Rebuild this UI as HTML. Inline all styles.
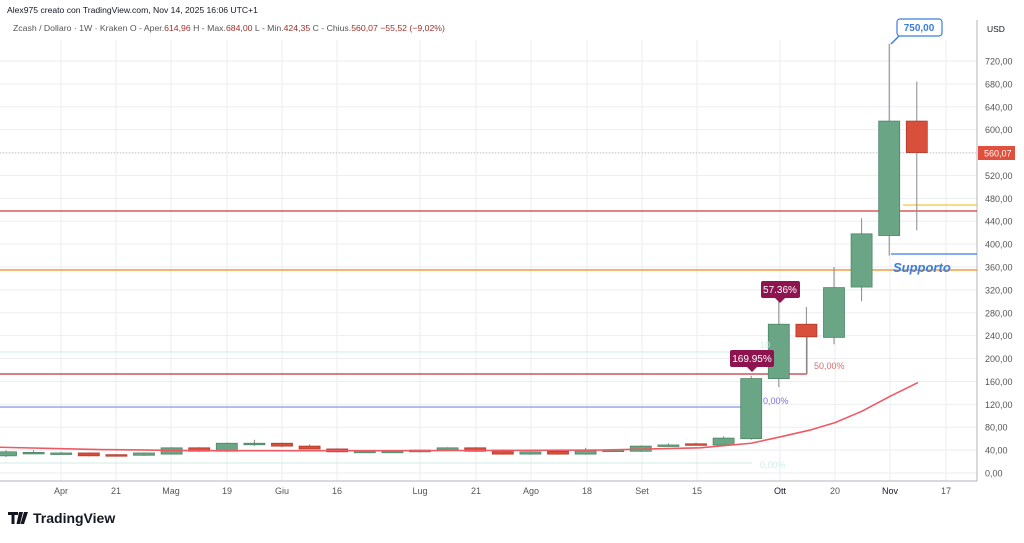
<!DOCTYPE html>
<html><head><meta charset="utf-8"><style>
body{margin:0;background:#fff;width:1024px;height:538px;overflow:hidden;font-family:"Liberation Sans",sans-serif}
svg text{font-family:"Liberation Sans",sans-serif}
</style></head><body>
<svg id="s" width="1024" height="538" xmlns="http://www.w3.org/2000/svg">
<text x="7" y="13" font-size="8.6" fill="#131722">Alex975 creato con TradingView.com, Nov 14, 2025 16:06 UTC+1</text>
<text x="13" y="31" font-size="8.7" fill="#555">Zcash / Dollaro · 1W · Kraken  O - Aper.<tspan fill="#a0302a">614,96</tspan>  H - Max.<tspan fill="#a0302a">684,00</tspan>  L - Min.<tspan fill="#a0302a">424,35</tspan>  C - Chius.<tspan fill="#a0302a">560,07  −55,52 (−9,02%)</tspan></text>
<g id="grid" stroke="#eceef2" stroke-width="1"></g>
<line x1="977" y1="20" x2="977" y2="481" stroke="#b2b5be"/>
<line x1="0" y1="481" x2="977" y2="481" stroke="#b2b5be"/>
<line x1="0" y1="153" x2="977" y2="153" stroke="#c0c3c9" stroke-dasharray="1,2"/>
<line x1="0" y1="211" x2="977" y2="211" stroke="#d0393b" stroke-width="1.3"/>
<line x1="0" y1="270" x2="977" y2="270" stroke="#f08a1c" stroke-width="1.3"/>
<line x1="0" y1="374" x2="807" y2="374" stroke="#c0343a" stroke-width="1.3"/>
<line x1="807" y1="374" x2="807" y2="332" stroke="#d06060"/>
<line x1="0" y1="407" x2="750" y2="407" stroke="#8b8fe0" stroke-width="1.2"/>
<line x1="0" y1="352" x2="760" y2="352" stroke="#cfeee6"/>
<line x1="0" y1="463" x2="752" y2="463" stroke="#cfeee6"/>
<line x1="903" y1="205" x2="977" y2="205" stroke="#f5c342" stroke-width="1.3"/>
<line x1="891" y1="254" x2="977" y2="254" stroke="#3b7de0" stroke-width="1.3"/>
<g id="c"></g>
<polyline id="ma" fill="none" stroke="#ee5a64" stroke-width="1.6"/>
<text x="760" y="348" font-size="9" fill="#cfeee6">10</text>
<text x="760" y="468" font-size="9" fill="#cfeee6">0,00%</text>
<text x="763" y="404" font-size="9" fill="#7a6ee0">0,00%</text>
<text x="814" y="369" font-size="9" fill="#e06a6a">50,00%</text>
<rect x="730" y="350" width="44" height="17" rx="2" fill="#8e1450"/><path d="M747 367 L752 372 L757 367Z" fill="#8e1450"/>
<text x="752" y="362" font-size="10" fill="#fff" text-anchor="middle">169.95%</text>
<rect x="761" y="281" width="39" height="17" rx="2" fill="#8e1450"/><path d="M775 298 L780 303 L785 298Z" fill="#8e1450"/>
<text x="780" y="293" font-size="10" fill="#fff" text-anchor="middle">57.36%</text>
<rect x="897" y="19" width="45" height="17" rx="3" fill="#fff" stroke="#3b7de0" stroke-width="1.2"/>
<path d="M891 44 L899 36" stroke="#3b7de0" stroke-width="1.5"/>
<text x="919" y="31" font-size="10" fill="#3b7de0" font-weight="bold" text-anchor="middle">750,00</text>
<text x="893" y="272" font-size="13" fill="#3b7de0" font-style="italic" font-weight="bold">Supporto</text>
<text x="987" y="32" font-size="8.5" fill="#131722">USD</text>
<g id="yl" font-size="9" fill="#555"></g>
<rect x="978" y="146" width="37" height="14" fill="#e0503c"/>
<text x="984" y="156.5" font-size="9" fill="#fff">560,07</text>
<g font-size="9" fill="#555" text-anchor="middle">
<text x="61" y="494">Apr</text><text x="116" y="494">21</text><text x="171" y="494">Mag</text><text x="227" y="494">19</text><text x="282" y="494">Giu</text><text x="337" y="494">16</text><text x="420" y="494">Lug</text><text x="476" y="494">21</text><text x="531" y="494">Ago</text><text x="587" y="494">18</text><text x="642" y="494">Set</text><text x="697" y="494">15</text><text x="780" y="494" fill="#131722">Ott</text><text x="835" y="494">20</text><text x="890" y="494" fill="#131722">Nov</text><text x="946" y="494">17</text>
</g>
<path d="M8 512h10v3h-3.5v9h-3v-9h-3.5zM19 512h4l-3 12h-3.5z" fill="#131722"/><path d="M24 512h4l-4 12h-3.5z" fill="#131722"/>
<text x="33" y="523" font-size="14" font-weight="bold" fill="#131722">TradingView</text>
</svg>
<script>
const Y=v=>473-0.5722*v, N="http://www.w3.org/2000/svg";
function el(t,a,p){const e=document.createElementNS(N,t);for(const k in a)e.setAttribute(k,a[k]);document.getElementById(p).appendChild(e);return e;}
[61,116,171,227,282,337,420,476,531,587,642,697,780,835,890,946].forEach(x=>el('line',{x1:x,y1:40,x2:x,y2:481},'grid'));
for(let v=0;v<=740;v+=40){el('line',{x1:0,y1:Y(v),x2:977,y2:Y(v)},'grid');
 if(v<=720){const t=el('text',{x:985,y:Y(v)+3.5},'yl');t.textContent=(v.toFixed(2)).replace('.',',');}}
const d=[[30,37,40,28],[35,36,40,33],[35,35,37,33],[35,30,36,29],[32,31,33,30],[31,35,36,30],[33,44,45,32],[44,38,45,37],[38,52,53,37],[52,52,58,47],[52,47,53,45],[47,42,50,41],[42,37,43,36],[38,38,40,37],[38,38,40,37],[37,40,41,36],[40,44,45,39],[44,38,45,37],[40,33,41,32],[33,37,38,32],[38,33,39,32],[33,39,44,32],[40,40,41,39],[38,47,48,37],[48,49,52,47],[51,50,53,49],[49,61,64,48],[60,165,170,58],[165,260,300,150],[260,238,290,175],[237,324,360,225],[325,418,445,300],[415,615,750,380],[615,560,684,424]];
d.forEach((c,i)=>{const x=6+27.6*i,[o,cl,h,l]=c,up=cl>=o;
 el('line',{x1:x,y1:Y(h),x2:x,y2:Y(l),stroke:'#888','stroke-width':1},'c');
 const t=Y(Math.max(o,cl)),b=Y(Math.min(o,cl));
 el('rect',{x:x-10.5,y:t,width:21,height:Math.max(1.5,b-t),fill:up?'#6aa585':'#d8503c',stroke:up?'#4d8766':'#b03a2a','stroke-width':0.8},'c');});
const m=[[0,45],[100,41],[200,39],[400,39],[600,40],[700,44],[751,52],[780,63],[810,75],[835,88],[862,108],[890,134],[918,158]];
document.getElementById('ma').setAttribute('points',m.map(p=>p[0]+','+Y(p[1])).join(' '));
</script>
</body></html>
